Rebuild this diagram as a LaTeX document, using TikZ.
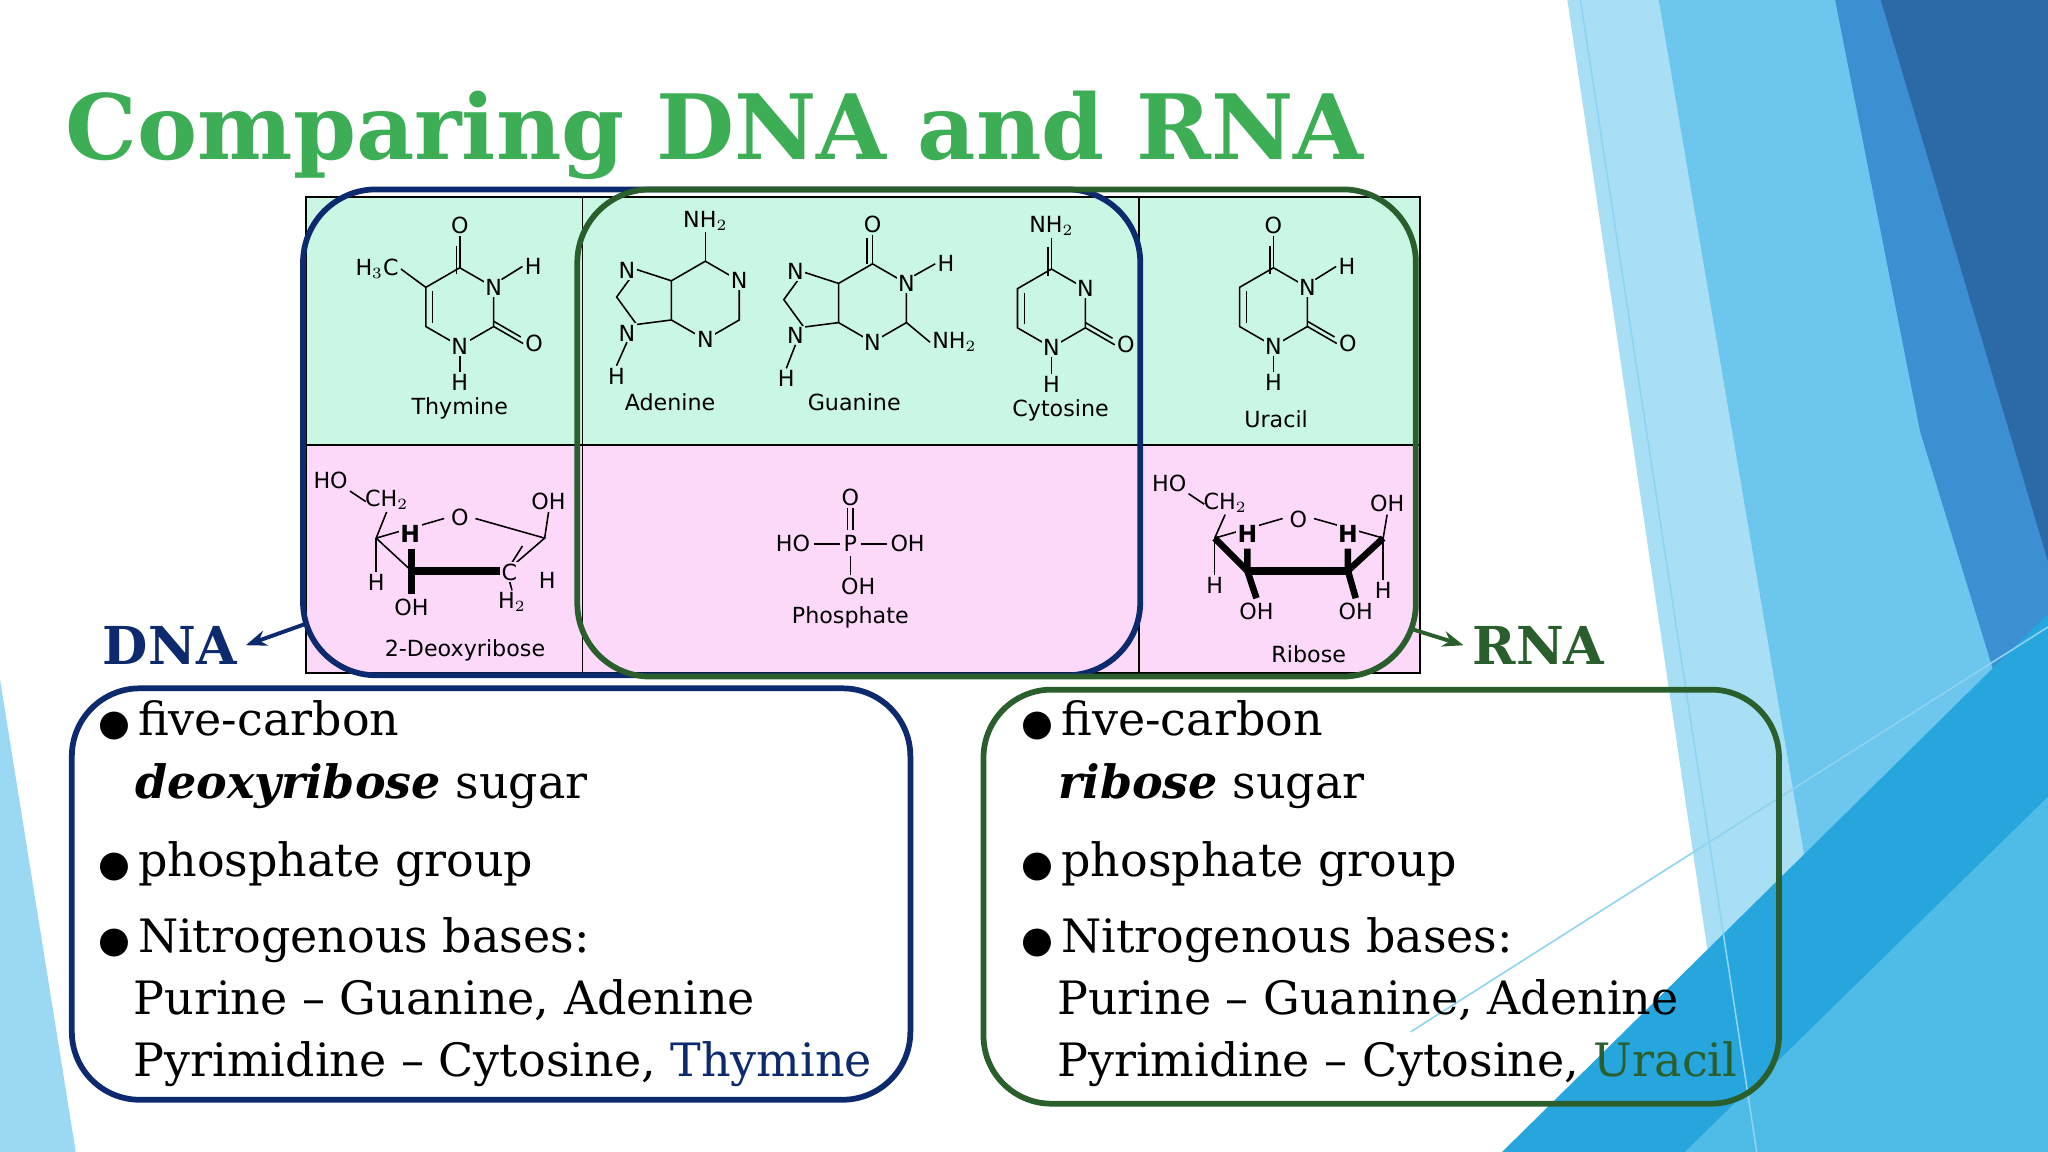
\documentclass[tikz,border=0pt]{standalone}
\usepackage{fontspec}
\newfontfamily\chem{DejaVu Sans}
\setmainfont{DejaVu Serif}
\usetikzlibrary{arrows.meta,calc}
\definecolor{mint}{HTML}{C9F7E4}
\definecolor{pinkc}{HTML}{FCD9F8}
\definecolor{navy}{HTML}{0E2A6E}
\definecolor{dgreen}{HTML}{2A5E2C}
\definecolor{tgreen}{HTML}{3DAE55}
\definecolor{bgA}{HTML}{A9DFF5}
\definecolor{bgB}{HTML}{6CC6EE}
\definecolor{bgC}{HTML}{3C8FD0}
\definecolor{bgD}{HTML}{2B6AA6}
\definecolor{bgE}{HTML}{27A6DE}
\definecolor{bgF}{HTML}{4FBCE8}
\definecolor{bgG}{HTML}{9BD8F3}
\definecolor{bgL}{HTML}{8ED3F0}
\tikzset{
 lab/.style={font=\chem\fontsize{8.5}{9}\selectfont,inner sep=0.6pt},
 ml/.style={lab,fill=mint},
 pl/.style={lab,fill=pinkc},
 bond/.style={line width=0.6pt},
 body/.style={anchor=base west,font=\fontsize{17.6}{20}\selectfont,inner sep=0},
}
\newcommand\bul{{\chem\fontsize{14}{14}\selectfont ●}\,}
\newcommand\hexr[1]{\draw[bond] (#1)+(-90:30)--+(-30:30)--+(30:30)--+(90:30)--+(150:30)--+(210:30)--cycle;}
\newcommand\pyr[2]{% center, top substituent label
 \hexr{#1}
 \draw[bond] (#1)++(-90:30)--++(0,-24) node[ml,anchor=south]{#2};
 \draw[bond] (#1)++(-90:25)++(-2.5,0)--++(0,-22);
 \draw[bond] (#1)++(30:30)--++(30:26) node[ml,anchor=west]{O};
 \draw[bond] (#1)++(30:30)++(0,-4)--++(30:24);
 \draw[bond] (#1)++(150:24)--++(0,-24);
 \draw[bond] (#1)++(90:30)--++(0,20) node[ml,anchor=north]{H};
 \node[ml] at ($(#1)+(90:30)$) {N};
}
\begin{document}
\begin{tikzpicture}[x=0.5pt,y=-0.5pt]
\useasboundingbox (0,0) rectangle (1568,882);
\fill[white] (0,0) rectangle (1568,882);
% background decoration
\fill[bgA] (1200,0)--(1568,0)--(1568,882)--(1330,882)--cycle;
\fill[bgB] (1270,0)--(1568,0)--(1568,882)--(1420,882)--cycle;
\fill[bgC] (1405,0)--(1568,0)--(1568,650)--(1470,330)--cycle;
\fill[bgD] (1440,0)--(1568,0)--(1568,430)--cycle;
\fill[bgE] (1150,882)--(1568,470)--(1568,882)--cycle;
\fill[bgF] (1290,882)--(1568,610)--(1568,882)--cycle;
\fill[bgG] (0,520)--(58,882)--(0,882)--cycle;
\draw[bgL,line width=0.6pt] (1210,0)--(1345,882);
\draw[bgL,line width=0.6pt] (1080,790)--(1568,480);
% title
\node[anchor=base west,font=\bfseries\fontsize{34.5}{36}\selectfont,text=tgreen,inner sep=0] (title) at (50,122) {Comparing DNA and RNA};
% table
\fill[mint] (234,151) rectangle (1087,341);
\fill[pinkc] (234,341) rectangle (1087,515);
\draw[line width=0.7pt] (234,151) rectangle (1087,515) (234,341)--(1087,341) (446,151)--(446,515) (872,151)--(872,515);
% Thymine
\pyr{352,235}{O}
\node[ml] at (378,220) {N};
\draw[bond] (384,214)--(400,204) node[ml,anchor=west]{H};
\draw[bond] (326,220)--(307,206) node[ml,anchor=east]{H$_3$C};
\node[lab] at (352,313) {Thymine};
% Uracil
\pyr{975,235}{O}
\node[ml] at (1001,220) {N};
\draw[bond] (1007,214)--(1023,204) node[ml,anchor=west]{H};
\node[lab] at (977,321) {Uracil};
% Cytosine
\pyr{805,236}{NH$_2$}
\node[ml] at (831,221) {N};
\node[lab] at (812,314) {Cytosine};
% Adenine
\hexr{540,230}
\draw[bond] (540,230)++(-150:30)--++(-162:28)--++(-234:26)--++(-306:26)--($(540,230)+(150:30)$);
\draw[bond] (540,200)--(540,178) node[ml,anchor=south]{NH$_2$};
\node[ml] at (566,215) {N};\node[ml] at (540,260) {N};
\node[ml] at (480,207) {N};\node[ml] at (480,255) {N};
\draw[bond] (480,262)--(472,280) node[ml,anchor=north]{H};
\node[lab] at (513,308) {Adenine};
% Guanine
\hexr{668,232}
\draw[bond] (668,232)++(-150:30)--++(-162:28)--++(-234:26)--++(-306:26)--($(668,232)+(150:30)$);
\draw[bond] (668,202)--(668,180) node[ml,anchor=south]{O};
\draw[bond] (664,202)--(664,182);
\node[ml] at (694,217) {N};\node[ml] at (668,262) {N};
\draw[bond] (700,211)--(716,202) node[ml,anchor=west]{H};
\draw[bond] (694,247)--(712,262) node[ml,anchor=west]{NH$_2$};
\node[ml] at (609,208) {N};\node[ml] at (609,257) {N};
\draw[bond] (609,264)--(602,282) node[ml,anchor=north]{H};
\node[lab] at (654,308) {Guanine};
% 2-Deoxyribose
\draw[bond] (288,412)--(340,397) (364,397)--(417,412)--(388,437) (315,437)--(288,412);
\draw[line width=3pt] (315,437)--(388,437);
\node[pl] at (352,396) {O};
\draw[bond] (288,412)--(288,438) node[pl,anchor=north]{H};
\draw[bond] (288,412)--(296,392) node[pl,anchor=south]{CH$_2$};
\draw[bond] (280,384)--(268,376) node[pl,anchor=south east]{HO};
\draw[bond] (417,412)--(420,392) node[pl,anchor=south]{OH};
\draw[line width=2.5pt] (315,437)--(315,420) (315,437)--(315,455) node[pl,anchor=north]{OH};
\node[pl,font=\chem\bfseries\fontsize{9}{9}\selectfont] at (314,409) {H};
\draw[bond] (388,437)--(400,418) (388,437)--(392,452) node[pl,anchor=north]{H$_2$};
\node[pl] at (390,438) {C};
\node[pl,anchor=west] at (411,444) {H};
\node[lab] at (356,498) {2-Deoxyribose};
% Phosphate
\node[pl] (P) at (651,416) {HO\,\rule[2.5pt]{10pt}{0.6pt}\,P\,\rule[2.5pt]{10pt}{0.6pt}\,OH};
\node[pl] at (651,381) {O};
\draw[bond] (649,389)--(649,406) (653,389)--(653,406);
\draw[bond] (651,426)--(651,440);
\node[pl] at (657,449) {OH};
\node[lab] at (651,473) {Phosphate};
% Ribose
\draw[bond] (930,412)--(982,397) (1006,397)--(1059,412);
\draw[line width=3pt] (955,437)--(1032,437);
\draw[line width=2.5pt] (930,412)--(955,437) (1059,412)--(1032,437);
\node[pl] at (994,398) {O};
\draw[bond] (930,412)--(930,440) node[pl,anchor=north]{H};
\draw[bond] (930,412)--(938,394) node[pl,anchor=south]{CH$_2$};
\draw[bond] (922,386)--(910,378) node[pl,anchor=south east]{HO};
\draw[bond] (1059,412)--(1062,394) node[pl,anchor=south]{OH};
\draw[bond] (1059,412)--(1059,444) node[pl,anchor=north]{H};
\draw[line width=2.5pt] (955,437)--(955,420) (955,437)--(962,458) node[pl,anchor=north]{OH};
\draw[line width=2.5pt] (1032,437)--(1032,420) (1032,437)--(1038,458) node[pl,anchor=north]{OH};
\node[pl,font=\chem\bfseries\fontsize{9}{9}\selectfont] at (955,409) {H};
\node[pl,font=\chem\bfseries\fontsize{9}{9}\selectfont] at (1032,409) {H};
\node[lab] at (1002,501) {Ribose};
% rounded frames
\draw[navy,line width=2.2pt,rounded corners=28pt] (232,145) rectangle (873,517);
\draw[dgreen,line width=2.2pt,rounded corners=28pt] (442,145) rectangle (1084,518);
\node[font=\bfseries\fontsize{20}{20}\selectfont,text=navy] (dna) at (130,494) {DNA};
\node[font=\bfseries\fontsize{20}{20}\selectfont,text=dgreen] (rna) at (1178,494) {RNA};
\coordinate (dnaA) at (233,478); \coordinate (rnaA) at (1082,482);
\draw[navy,line width=1.5pt,-{Stealth[length=8pt]}] (dnaA)--(dna.east);
\draw[dgreen,line width=1.5pt,-{Stealth[length=8pt]}] (rnaA)--(rna.west);
% lower boxes
\draw[navy,line width=2.2pt,rounded corners=26pt] (55,527) rectangle (697,842);
\draw[dgreen,line width=2.2pt,rounded corners=26pt] (753,528) rectangle (1362,845);
\foreach \dx/\sug/\base/\col in {0/deoxyribose/Thymine/navy,707/ribose/Uracil/dgreen}{
 \node[body] at (75+\dx,563) {\bul five-carbon};
 \node[body] at (103+\dx,611) {\textbf{\textit{\sug}} sugar};
 \node[body] at (75+\dx,671) {\bul phosphate group};
 \node[body] at (75+\dx,729) {\bul Nitrogenous bases:};
 \node[body] at (102+\dx,777) {Purine -- Guanine, Adenine};
 \node[body] at (102+\dx,824) {Pyrimidine -- Cytosine, \textcolor{\col}{\base}};
}
\end{tikzpicture}
\end{document}
